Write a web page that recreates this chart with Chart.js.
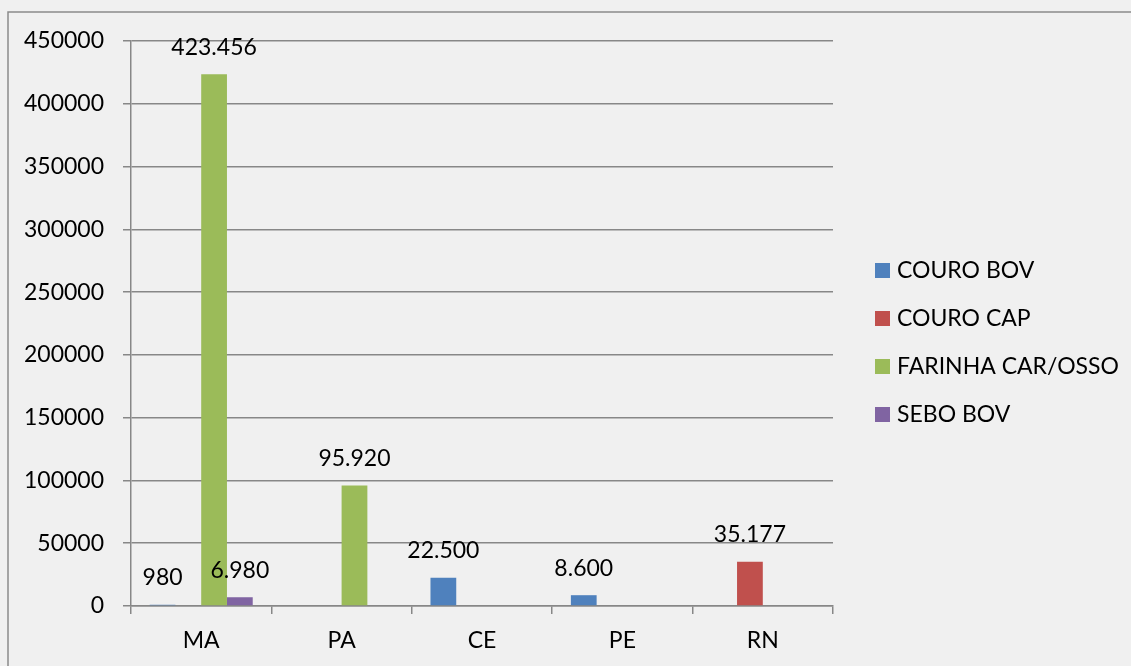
<!DOCTYPE html>
<html>
<head>
<meta charset="utf-8">
<script src="https://cdn.jsdelivr.net/npm/chart.js@4"></script>
<style>
  html, body { margin: 0; padding: 0; background: #f0f0f0; }
  #wrap { width: 1131px; height: 666px; }
</style>
</head>
<body>
<div id="wrap"><canvas id="exportChart" width="1131" height="666"></canvas></div>
<script>
const categories = ['MA', 'PA', 'CE', 'PE', 'RN'];
const seriesNames = ['COURO BOV', 'COURO CAP', 'FARINHA CAR/OSSO', 'SEBO BOV'];
const couroBov = [980, null, 22500, 8600, null];
const couroCap = [null, null, null, null, 35177];
const farinha = [423456, 95920, null, null, null];
const seboBov = [6980, null, null, null, null];
const yTicks = [0, 50000, 100000, 150000, 200000, 250000, 300000, 350000, 400000, 450000];

const colors = ['#4f81bd', '#c0504d', '#9bbb59', '#8064a2'];
const FONT = 'Lato, "DejaVu Sans", sans-serif';
const FS = 23;

// 423456 -> "423.456"
function fmt(v) {
  return String(v).replace(/\B(?=(\d{3})+(?!\d))/g, '.');
}

// background + frame (only left and top edge are visible in the picture)
const frame = {
  id: 'frame',
  beforeDraw(chart) {
    const ctx = chart.ctx;
    ctx.save();
    ctx.fillStyle = '#f0f0f0';
    ctx.fillRect(0, 0, chart.width, chart.height);
    ctx.strokeStyle = '#8a8a8a';
    ctx.lineWidth = 1.5;
    ctx.beginPath();
    ctx.moveTo(8, chart.height + 2);
    ctx.lineTo(8, 12);
    ctx.lineTo(chart.width + 2, 12);
    ctx.stroke();
    ctx.restore();
  }
};

// value labels above each bar
const valueLabels = {
  id: 'valueLabels',
  afterDatasetsDraw(chart) {
    const ctx = chart.ctx;
    ctx.save();
    ctx.font = FS + 'px ' + FONT;
    ctx.fillStyle = '#000';
    ctx.textAlign = 'center';
    ctx.textBaseline = 'middle';
    chart.data.datasets.forEach((ds, i) => {
      chart.getDatasetMeta(i).data.forEach((bar, j) => {
        const v = ds.data[j];
        if (v == null) return;
        ctx.fillText(fmt(v), bar.x, bar.y - 27);
      });
    });
    ctx.restore();
  }
};

// legend on the right
const sideLegend = {
  id: 'sideLegend',
  afterDraw(chart) {
    const ctx = chart.ctx;
    ctx.save();
    ctx.font = FS + 'px ' + FONT;
    ctx.textBaseline = 'middle';
    ctx.textAlign = 'left';
    chart.data.datasets.forEach((ds, i) => {
      const y = 263 + i * 48;
      ctx.fillStyle = ds.backgroundColor;
      ctx.fillRect(875, y, 15, 15);
      ctx.fillStyle = '#000';
      ctx.fillText(ds.label, 897, y + 8);
    });
    ctx.restore();
  }
};

const datasets = [couroBov, couroCap, farinha, seboBov].map((d, i) => ({
  label: seriesNames[i],
  data: d,
  backgroundColor: colors[i],
  borderWidth: 0,
  categoryPercentage: 0.734,
  barPercentage: 1.0,
}));

new Chart(document.getElementById('exportChart'), {
  type: 'bar',
  data: { labels: categories, datasets },
  options: {
    responsive: false,
    animation: false,
    layout: { padding: { top: 41, right: 298, left: 0, bottom: 0 } },
    plugins: { legend: { display: false }, tooltip: { enabled: false } },
    scales: {
      x: {
        grid: { offset: true, drawOnChartArea: false, drawTicks: true, tickLength: 8, color: '#878787', lineWidth: 1.5 },
        border: { color: '#878787', width: 1.5 },
        ticks: { color: '#000', font: { family: FONT, size: FS }, padding: 13 },
        afterFit(scale) { scale.height = 60; },
      },
      y: {
        min: 0,
        max: 450000,
        afterBuildTicks(scale) { scale.ticks = yTicks.map((v) => ({ value: v })); },
        grid: { color: '#878787', lineWidth: 1.5, tickLength: 8 },
        border: { color: '#878787', width: 1.5 },
        ticks: { color: '#000', font: { family: FONT, size: FS }, padding: 19, callback: (v) => String(v) },
        afterFit(scale) { scale.width = 131; },
      },
    },
  },
  plugins: [frame, valueLabels, sideLegend],
});
</script>
</body>
</html>
